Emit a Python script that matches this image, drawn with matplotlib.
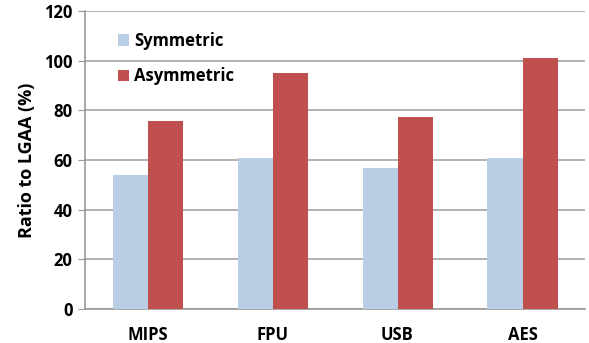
import matplotlib.pyplot as plt
import numpy as np

categories = ["MIPS", "FPU", "USB", "AES"]
symmetric = [54.1, 60.7, 56.9, 60.7]
asymmetric = [75.6, 95.2, 77.4, 101.2]
yticks = [0, 20, 40, 60, 80, 100, 120]

plt.rcParams['font.family'] = ['Open Sans', 'DejaVu Sans']

fig = plt.figure(figsize=(5.89, 3.43), dpi=100)
ax = fig.add_axes([85 / 589, 34 / 343, 500 / 589, 298 / 343])

x = np.arange(len(categories))
w = 0.28
ax.bar(x - w / 2, symmetric, w, color='#B9CDE5', label='Symmetric', zorder=3)
ax.bar(x + w / 2, asymmetric, w, color='#C0504D', label='Asymmetric', zorder=3)

ax.set_xlim(-0.5, len(categories) - 0.5)
ax.set_ylim(0, 120)
ax.set_yticks(yticks)
ax.set_xticks(x)
ax.set_xticklabels(categories, fontsize=12, fontweight='bold')
ax.set_yticklabels([str(t) for t in yticks], fontsize=12, fontweight='bold')
ax.tick_params(axis='x', length=0, pad=12)
ax.tick_params(axis='y', length=5, color='#999999', pad=4)
ax.yaxis.grid(True, color='#a6a6a6', linewidth=1.2, zorder=0)

for side in ['top', 'right']:
    ax.spines[side].set_visible(False)
for side in ['left', 'bottom']:
    ax.spines[side].set_color('#999999')
    ax.spines[side].set_linewidth(1.2)

ax.set_ylabel('Ratio to LGAA (%)', fontsize=13, fontweight='bold', labelpad=6)

ax.legend(loc='upper left', bbox_to_anchor=(0.035, 0.98), frameon=False,
          prop={'size': 12, 'weight': 'bold'}, handlelength=0.7, handleheight=0.7,
          handletextpad=0.3, labelspacing=1.05)

fig.savefig('out.png', dpi=100)
